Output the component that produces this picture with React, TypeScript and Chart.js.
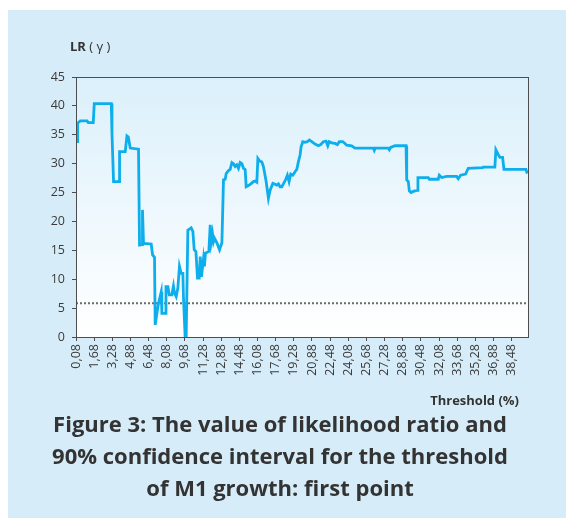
import { useEffect, useRef } from 'react';
import { Chart, registerables } from 'chart.js';

Chart.register(...registerables);

const tickLabels = [
  '0,08', '1,68', '3,28', '4,88', '6,48', '8,08', '9,68', '11,28', '12,88', '14,48',
  '16,08', '17,68', '19,28', '20,88', '22,48', '24,08', '25,68', '27,28', '28,88', '30,48',
  '32,08', '33,68', '35,28', '36,88', '38,48',
];
const tickValues = tickLabels.map((l) => parseFloat(l.replace(',', '.')));

const thresholdX = [
  0.17, 0.22, 0.46, 1.05, 1.16, 1.60, 1.69, 3.19, 3.25, 3.39,
  3.89, 3.92, 4.42, 4.57, 4.69, 4.86, 5.59, 5.68, 5.92, 5.94,
  6.03, 6.71, 6.83, 7.00, 7.06, 7.21, 7.35, 7.59, 7.65, 7.94,
  8.01, 8.18, 8.30, 8.53, 8.67, 8.76, 8.91, 9.06, 9.20, 9.35,
  9.50, 9.55, 9.70, 9.79, 9.94, 10.23, 10.38, 10.50, 10.65, 10.79,
  10.94, 11.03, 11.14, 11.32, 11.40, 11.49, 11.79, 11.91, 12.00, 12.11,
  12.20, 12.29, 12.50, 12.73, 12.94, 13.08, 13.23, 13.32, 13.52, 13.67,
  13.82, 13.96, 14.11, 14.26, 14.40, 14.55, 14.70, 14.84, 14.99, 15.08,
  15.28, 15.49, 15.72, 15.87, 16.02, 16.11, 16.25, 16.46, 16.60, 16.84,
  17.04, 17.19, 17.43, 17.78, 17.92, 18.07, 18.22, 18.36, 18.57, 18.71,
  18.86, 19.01, 19.19, 19.39, 19.54, 19.68, 19.83, 19.92, 20.07, 20.27,
  20.47, 20.65, 20.86, 21.15, 21.44, 21.65, 21.88, 22.12, 22.27, 22.39,
  22.62, 22.91, 23.12, 23.29, 23.59, 23.79, 23.94, 24.38, 24.67, 26.29,
  26.37, 26.46, 27.61, 27.70, 27.82, 28.20, 29.17, 29.23, 29.37, 29.46,
  29.61, 29.81, 29.96, 30.20, 30.22, 31.13, 31.22, 32.01, 32.10, 32.31,
  32.75, 33.63, 33.77, 33.98, 34.42, 34.65, 35.92, 35.97, 37.00, 37.09,
  37.29, 37.44, 37.68, 37.80, 39.74, 39.85,
];

const lrValues = [
  33.8, 37.0, 37.4, 37.4, 37.1, 37.1, 40.4, 40.4, 35.3, 26.9,
  26.9, 32.1, 32.1, 34.8, 34.6, 32.7, 32.5, 15.9, 16.0, 22.0,
  16.2, 16.1, 14.2, 13.8, 2.1, 4.1, 5.8, 7.8, 4.1, 4.1,
  8.7, 8.7, 7.3, 7.3, 8.8, 7.6, 7.0, 8.5, 12.2, 11.0,
  11.0, 7.0, 0.0, 0.0, 18.5, 18.9, 18.3, 15.1, 14.8, 10.2,
  10.2, 13.9, 10.4, 13.6, 12.2, 14.5, 14.8, 19.4, 16.5, 17.9,
  16.5, 17.1, 16.3, 15.1, 16.3, 27.2, 27.3, 28.3, 28.8, 29.0,
  30.2, 30.0, 29.5, 29.8, 29.2, 30.2, 30.0, 29.2, 29.0, 26.0,
  26.2, 26.5, 26.9, 27.0, 26.8, 30.9, 30.5, 30.3, 29.5, 26.9,
  24.0, 25.4, 26.6, 26.3, 26.5, 26.0, 26.0, 26.5, 27.3, 28.0,
  26.9, 28.2, 28.0, 28.6, 29.0, 30.3, 31.5, 32.9, 33.8, 33.7,
  33.8, 34.1, 33.8, 33.4, 33.1, 33.3, 33.8, 33.9, 33.1, 33.8,
  33.6, 33.5, 33.3, 33.8, 33.8, 33.5, 33.2, 33.1, 32.7, 32.7,
  32.3, 32.7, 32.7, 32.4, 32.8, 33.1, 33.1, 27.2, 26.9, 25.3,
  25.0, 25.2, 25.3, 25.4, 27.6, 27.6, 27.3, 27.3, 28.0, 27.6,
  27.8, 27.8, 27.4, 28.0, 28.2, 29.2, 29.3, 29.4, 29.4, 32.4,
  31.6, 31.1, 31.1, 29.0, 29.0, 28.3,
];

const criticalValue = 5.84;
const xMin = 0.08;
const xMax = 39.92;
const yMin = 0;
const yMax = 45;
const yStep = 5;

const FONT = '"Open Sans", "Noto Sans", sans-serif';

const plotFrame = {
  id: 'plotFrame',
  beforeDatasetsDraw(chart: any) {
    const { ctx, chartArea: a } = chart;
    const g = ctx.createLinearGradient(0, a.top, 0, a.bottom);
    g.addColorStop(0, '#dbf0fb');
    g.addColorStop(1, '#ffffff');
    ctx.save();
    ctx.fillStyle = g;
    ctx.fillRect(a.left, a.top, a.right - a.left, a.bottom - a.top);
    ctx.restore();
  },
  afterDraw(chart: any) {
    const { ctx, chartArea: a } = chart;
    ctx.save();
    ctx.strokeStyle = '#4d4d4d';
    ctx.lineWidth = 1;
    ctx.strokeRect(Math.round(a.left) + 0.5, Math.round(a.top) + 0.5, Math.round(a.right - a.left), Math.round(a.bottom - a.top));
    ctx.restore();
  },
};

export default function App() {
  const ref = useRef<HTMLCanvasElement>(null);

  useEffect(() => {
    if (!ref.current) return;
    const chart = new Chart(ref.current, {
      type: 'line',
      data: {
        datasets: [
          {
            data: thresholdX.map((x, i) => ({ x, y: lrValues[i] })),
            borderColor: '#0daeec',
            borderWidth: 2.8,
            pointRadius: 0,
            tension: 0,
            fill: false,
            order: 1,
          },
          {
            data: [
              { x: xMin, y: criticalValue },
              { x: xMax, y: criticalValue },
            ],
            borderColor: '#6b6b6b',
            borderWidth: 2,
            borderDash: [2, 2],
            pointRadius: 0,
            fill: false,
            order: 2,
          },
        ],
      },
      options: {
        responsive: false,
        animation: false,
        events: [],
        layout: { padding: { left: 0, top: 67, right: 38, bottom: 0 } },
        plugins: { legend: { display: false }, tooltip: { enabled: false } },
        scales: {
          x: {
            type: 'linear',
            min: xMin,
            max: xMax,
            afterBuildTicks: (axis: any) => {
              axis.ticks = tickValues.map((v) => ({ value: v }));
            },
            afterFit: (s: any) => {
              s.height = 73;
            },
            ticks: {
              autoSkip: false,
              maxRotation: 90,
              minRotation: 90,
              padding: 3,
              color: '#3a3a3a',
              font: { family: FONT, size: 12.5 },
              callback: (_v: any, i: number) => tickLabels[i],
            },
            grid: { drawOnChartArea: false, drawTicks: true, tickLength: 4, color: '#4d4d4d' },
            border: { display: true, color: '#4d4d4d' },
          },
          y: {
            min: yMin,
            max: yMax,
            afterFit: (s: any) => {
              s.width = 68;
            },
            ticks: {
              stepSize: yStep,
              padding: 7,
              color: '#3a3a3a',
              font: { family: FONT, size: 12.5 },
            },
            grid: { drawOnChartArea: false, drawTicks: true, tickLength: 4, color: '#4d4d4d' },
            border: { display: true, color: '#4d4d4d' },
          },
        },
      },
      plugins: [plotFrame],
    });
    return () => chart.destroy();
  }, []);

  return (
    <div
      style={{
        position: 'absolute',
        left: 8,
        top: 10,
        width: 558,
        height: 508,
        background: '#d6edf9',
        fontFamily: FONT,
        color: '#333333',
      }}
    >
      <canvas ref={ref} width={558} height={400} style={{ position: 'absolute', left: 0, top: 0 }} />
      <div style={{ position: 'absolute', left: 62, top: 28, fontSize: 13, lineHeight: '16px', color: '#333' }}>
        <b>LR</b> ( γ )
      </div>
      <div
        style={{
          position: 'absolute',
          right: 558 - 511,
          top: 382,
          fontSize: 13,
          lineHeight: '16px',
          fontWeight: 700,
          color: '#333',
        }}
      >
        Threshold (%)
      </div>
      <div
        style={{
          position: 'absolute',
          left: 0,
          width: 544,
          top: 397,
          textAlign: 'center',
          fontSize: 22,
          lineHeight: '32px',
          fontWeight: 700,
          color: '#333',
        }}
      >
        Figure 3: The value of likelihood ratio and
        <br />
        90% confidence interval for the threshold
        <br />
        of M1 growth: first point
      </div>
    </div>
  );
}
